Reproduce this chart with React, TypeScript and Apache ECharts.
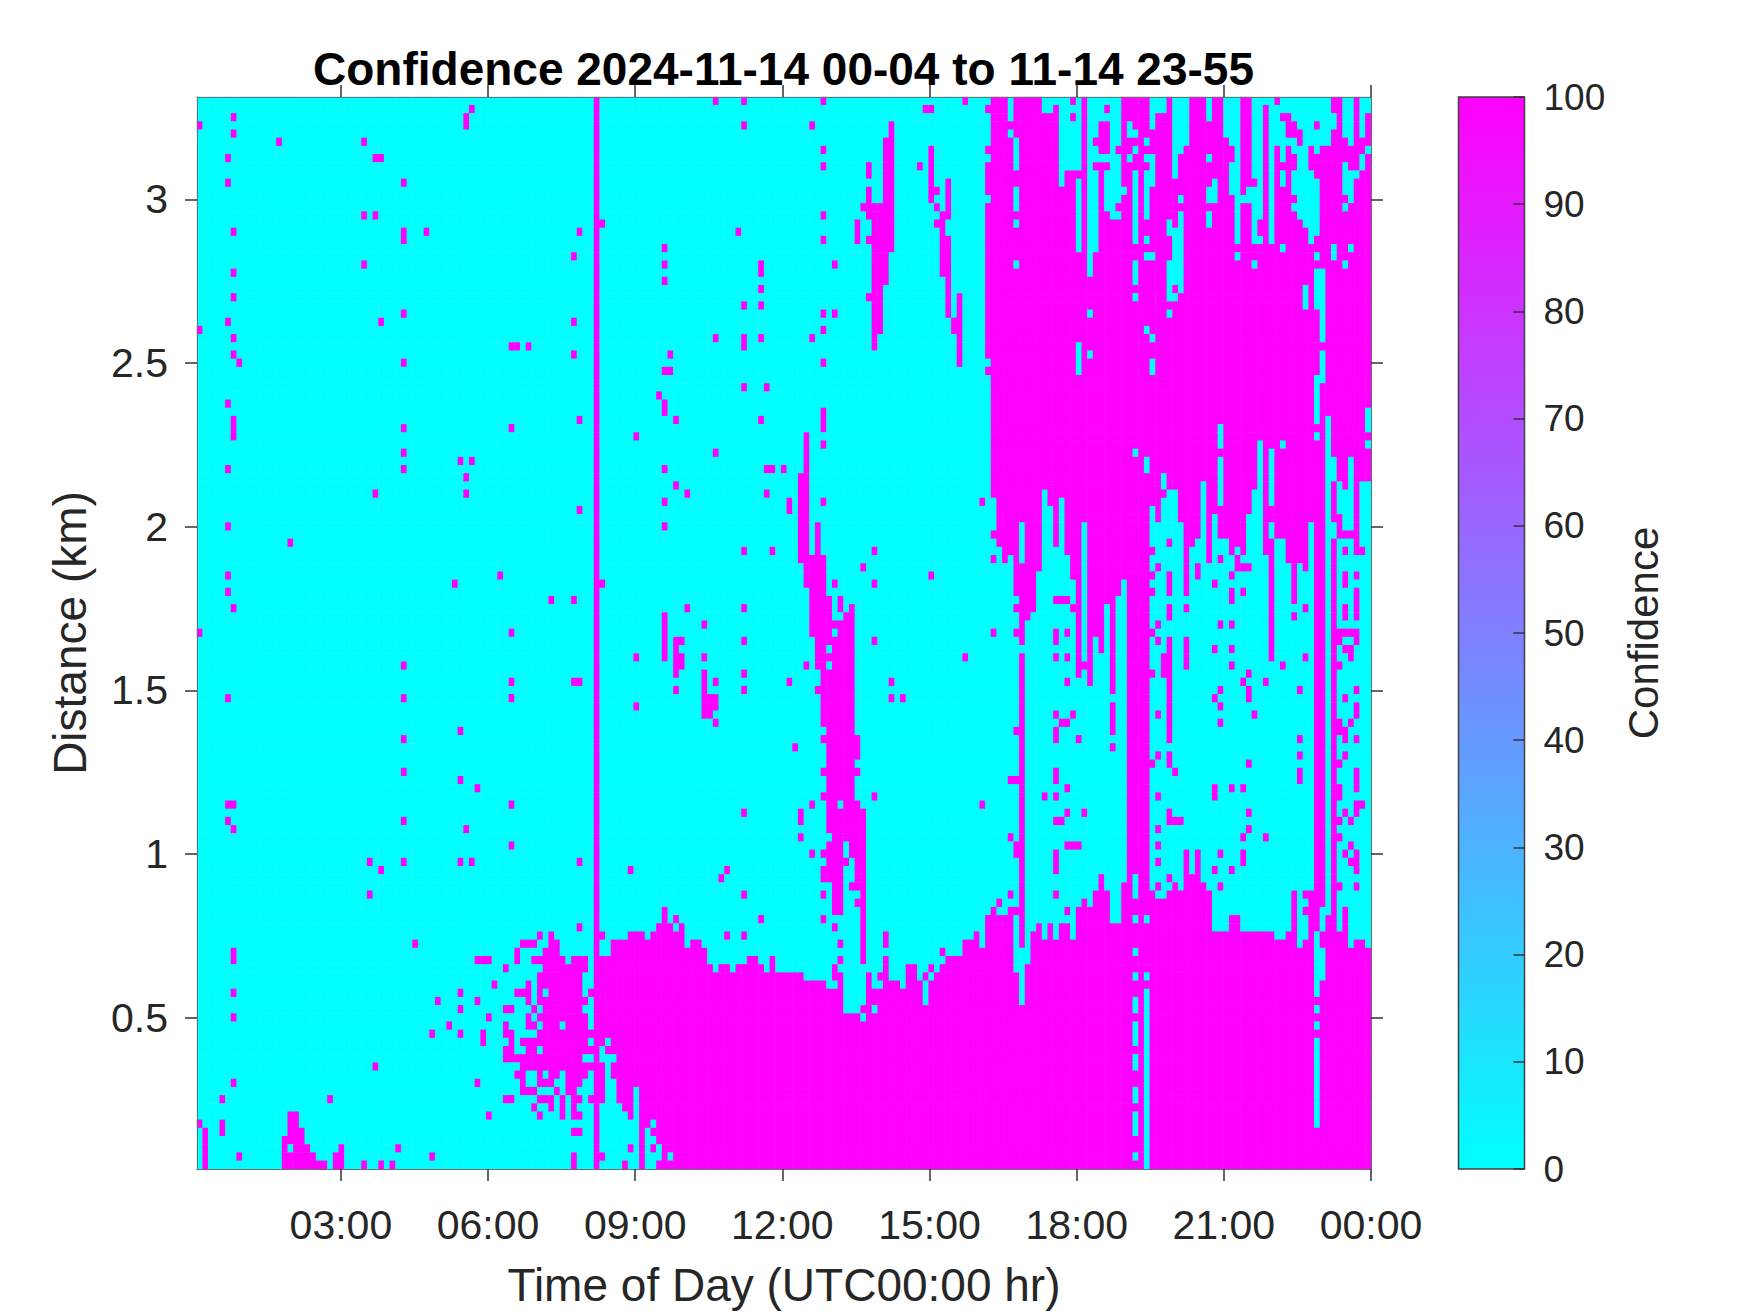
import React, { useEffect, useRef } from "react";
import * as echarts from "echarts";

const COL_COUNT = 207;
const ROW_COUNT = 131;
const TITLE = "Confidence 2024-11-14 00-04 to 11-14 23-55";
const X_NAME = "Time of Day (UTC00:00 hr)";
const Y_NAME = "Distance (km)";
const BAR_NAME = "Confidence";
const X_TICK_HOURS = [3, 6, 9, 12, 15, 18, 21, 24];
const Y_TICKS_KM = [0.5, 1, 1.5, 2, 2.5, 3];

// Rows are counted from the top of the picture (3.3 km) at 25 m per row.
// Isolated detections: [col, firstRow, lastRow]
const isolatedRuns: number[][] = [
  [48,1,1],[47,2,3],[6,2,2],[0,3,3],[6,4,4],[14,5,5],[29,5,5],[5,7,7],[31,7,7],[32,7,7],[5,10,10],[36,10,10],[29,14,14],[31,14,14],[71,15,15],[6,16,16],[36,16,17],[40,16,16],[67,16,16],[66,19,19],[29,20,20],[6,21,21],[6,24,24],[36,26,26],[5,27,27],[32,27,27],[66,27,27],[0,28,28],[6,29,29],[55,30,30],[56,30,30],[58,30,30],[6,31,31],[66,31,31],[7,32,32],[36,32,32],[5,37,37],[6,39,41],[36,40,40],[55,40,40],[67,39,39],
  [36,43,43],[46,44,44],[48,44,44],[5,45,45],[36,45,45],[47,46,46],[31,48,48],[47,48,48],[67,50,50],[5,52,52],[16,54,54],[5,58,58],[53,58,58],[45,59,59],[71,59,59],[5,60,60],[62,61,61],[66,61,61],[6,62,62],[0,65,65],[55,65,65],[36,69,69],[55,71,71],[67,71,71],[66,71,71],[5,73,73],[36,73,73],[55,73,73],[46,77,77],[36,78,78],[36,82,82],[46,83,83],[49,84,84],[5,86,86],[6,86,86],[55,86,86],[5,88,88],[36,88,88],
  [6,89,89],[47,89,89],[55,91,91],[30,93,93],[36,93,93],[46,93,93],[48,93,93],[67,93,93],[32,94,94],[30,97,97],[67,101,101],[38,103,103],[6,104,105],[6,109,109],[46,109,109],[42,110,110],[49,110,110],[46,111,111],[6,112,112],[51,112,112],[44,113,113],[41,114,114],[46,114,114],[50,114,115],[31,118,118],[6,120,120],[49,120,120],[4,122,122],[23,122,122],[51,124,124],[0,125,125],[4,125,126],[1,126,130],[25,128,128],[35,128,128],[7,129,129],[41,129,129],[29,130,130],[32,130,130],[34,130,130],
  [91,0,0],[96,0,0],[110,0,0],[135,0,0],[128,1,1],[129,1,1],[96,3,3],[108,3,3],[110,6,6],[110,8,8],[127,8,8],[118,8,9],[118,11,12],[130,11,11],[130,13,13],[110,14,14],[110,17,17],[116,15,17],[95,16,16],[82,18,18],[82,20,20],[82,22,22],[99,20,21],[99,23,23],[112,20,20],[96,25,25],[99,25,25],[110,26,26],[112,26,26],[110,28,28],[91,29,29],[96,29,30],[99,29,29],[108,29,29],[83,31,31],[82,33,33],[83,33,33],[110,32,32],[96,35,35],[100,35,35],[81,36,36],[82,37,38],[84,39,39],[99,39,39],[110,38,40],[77,41,41],[110,42,42],
  [91,43,43],[82,45,45],[100,45,45],[101,45,45],[103,45,45],[84,47,47],[86,48,48],[100,48,48],[104,49,50],[82,49,49],[110,49,49],[138,49,49],[82,52,52],[109,52,55],[96,55,55],[101,55,55],[119,55,55],[117,57,57],[129,58,58],[112,59,59],[119,59,59],[113,61,62],[86,62,62],[96,62,62],[82,63,68],[89,64,64],[84,66,66],[85,66,66],[84,67,67],[84,68,69],[85,68,69],[84,70,70],[96,66,66],[119,66,66],[140,65,65],[107,69,69],[77,68,68],[89,68,68],[135,68,68],[89,70,72],[91,71,71],[96,70,70],[96,72,72],[84,72,72],[104,71,71],[122,71,71],[122,73,73],[124,73,73],[89,73,75],[90,73,75],[91,73,74],[91,76,76],[77,74,74],[105,79,79],[109,72,72],[119,85,85],[108,86,86],[138,86,86],[143,83,83],[96,87,87],[106,87,88],[106,90,90],[76,94,94],[93,94,94],[92,95,95],[96,97,97],[110,97,97],[99,100,100],[110,100,100],[112,101,101],[93,102,102],[96,102,102],[113,103,103],[113,105,105],[121,102,103],[108,92,92],[131,104,104],[129,106,106],[128,107,107],[120,107,107],[118,107,108],[112,106,107],[84,100,100],[117,111,111],[71,102,102],[71,129,129],[141,98,98],[143,97,97],[143,90,90],[144,91,92],[144,77,77],[144,83,83],[144,99,99],[140,53,53],[140,56,56],[144,62,62],[144,65,65],
  [154,62,62],[151,61,61],[152,61,61],[153,61,61],[151,65,66],[153,65,65],[151,68,68],[153,68,68],[153,71,71],[151,75,75],[154,75,75],[152,76,76],[153,76,76],[151,77,78],[155,78,78],[161,74,77],[161,79,79],[151,82,83],[153,84,84],[149,85,85],[151,85,85],[156,69,69],[151,88,88],[152,88,88],[153,87,87],[156,87,87],[153,91,91],[154,91,91],[155,91,91],[151,92,94],[151,97,97],[153,99,99],[156,98,98],
  [168,55,55],[168,58,58],[168,60,60],[168,65,65],[168,70,70],[168,81,81],[169,57,57],[169,64,64],[169,66,66],[169,75,75],[169,80,80],[169,85,85],[169,89,89],[169,91,91],[169,93,93],[169,96,96],[171,54,54],[171,58,60],[171,62,63],[171,66,67],[170,68,70],[171,68,70],[171,71,78],[171,80,81],[172,82,82],[171,87,88],[172,88,88],[173,88,88],[171,95,95],[172,96,96],
  [174,62,62],[174,66,69],[176,57,58],[179,59,59],[180,56,56],[182,58,58],[182,60,61],[184,60,60],[180,64,64],[182,64,64],[179,67,67],[182,67,67],[182,69,69],[185,70,70],[184,71,71],[188,71,71],[185,72,73],[180,72,72],[179,73,73],[180,74,74],[180,76,76],[186,75,75],[194,72,72],[194,78,78],[194,80,80],[185,81,81],[194,82,83],[179,84,85],[182,84,84],[184,84,84],[185,87,87],[185,89,89],[184,90,90],[188,90,90],[184,92,93],[180,92,92],[179,94,94],[182,94,94],[180,96,96],
  [183,56,57],[184,57,57],[185,57,57],[184,55,55],[189,54,68],[191,69,69],[195,68,68],[195,62,62],[193,57,61],[193,63,63],[193,97,101],[195,97,97],[195,99,99],[196,97,98],
  [204,58,58],[202,58,59],[204,60,63],[202,62,63],[204,72,72],[202,73,73],[204,74,75],[203,76,76],[202,78,78],[204,78,78],[202,80,80],[204,82,84],[201,84,85],[202,87,87],[204,87,87],[203,88,88],[201,88,88],[201,90,90],[203,91,91],[202,92,92],[204,92,94],[203,93,93],[201,96,96],[204,96,96],[202,55,55],[205,55,55],[204,55,55],
  [200,54,99],[201,53,53],[202,53,53],[203,53,53],[200,51,51],[201,51,52],[200,47,50],[201,69,69],[200,65,65],[201,65,65],[202,65,65],[203,65,65],[204,65,66],[201,66,66],[202,67,67],[203,67,68],[201,76,76],[201,77,77],[202,77,77],[201,81,81],[204,86,86],[205,86,86],
  [139,1,1],[139,6,6],[139,8,11],[139,13,31],[139,33,33],
];

// Solid clusters of detections: [firstCol, lastCol, firstRow, lastRow]
const solidBlocks: number[][] = [
  [70,70,0,130],[16,17,124,126],[18,18,126,127],[15,17,127,127],[15,15,128,130],[17,19,128,128],[16,20,129,129],[16,22,130,130],[24,25,129,130],
  [57,59,103,103],[62,63,103,103],[60,60,102,102],[62,62,102,102],[56,56,104,105],[61,63,104,104],[49,51,105,105],[59,64,105,105],[66,68,105,105],[54,54,106,106],[61,68,106,106],[60,67,107,108],[52,52,108,108],[58,58,108,108],[56,58,109,109],[60,60,109,109],[62,67,109,109],[69,69,109,109],[58,58,110,110],[60,68,110,110],[54,55,111,111],[59,59,111,111],[61,67,111,111],[58,58,112,112],[60,68,112,112],[54,54,113,113],[58,59,113,113],[61,63,113,113],[65,68,113,113],[54,55,114,114],[60,69,114,114],[55,55,115,115],[57,68,115,115],[54,55,116,116],[58,59,116,116],[61,69,116,116],[54,67,117,117],[57,59,118,118],[60,69,118,118],[56,57,119,119],[60,60,119,119],[62,63,119,119],[65,68,119,119],[57,57,120,120],[60,62,120,120],[65,67,120,120],[57,59,121,121],[63,63,121,121],[65,66,121,121],[54,54,122,122],[55,55,122,122],[60,62,122,122],[64,64,122,122],[66,67,122,122],[69,69,122,122],[59,59,123,123],[62,62,123,123],[64,64,123,123],[66,66,123,123],[60,60,124,124],[64,64,124,124],[66,67,124,124],[66,67,126,126],[66,66,129,130],
  [107,107,41,55],[106,106,46,56],[107,110,56,59],[108,110,60,60],[108,111,61,65],[109,115,66,69],[112,115,64,65],[114,115,63,63],[115,115,62,62],[110,115,70,76],[111,115,77,77],[110,116,78,78],[111,116,79,80],[111,115,81,81],[110,116,82,82],[111,115,83,84],[110,115,85,85],[111,112,86,86],[114,116,86,86],[111,117,87,89],[112,117,90,90],[111,113,91,91],[115,117,91,91],[110,113,92,92],[115,117,92,92],[111,114,93,93],[116,117,93,93],[110,113,94,95],[116,117,94,95],[112,113,96,96],[115,117,96,96],[112,113,97,99],[117,117,97,97],[116,117,98,98],[117,117,99,105],
  [122,122,3,4],[121,122,5,12],[117,122,13,13],[118,122,14,14],[119,122,15,16],[118,122,17,17],[119,122,18,18],[119,121,19,22],[119,120,23,23],[118,120,24,24],[119,120,25,28],[119,119,29,30],
  [129,129,6,12],[132,132,10,13],[131,132,14,14],[130,131,15,15],[131,131,16,16],[131,132,17,21],[132,132,22,26],[133,134,27,28],[134,134,24,26],[134,134,29,32],
  [145,145,68,103],
];

// Gaps inside the clusters, [firstCol, lastCol, firstRow, lastRow]
const gapBlocks: number[][] = [
  [112,112,65,65],[111,111,67,67],[111,111,69,69],[114,114,91,92],
  [143,143,0,2],[143,143,4,4],[144,144,5,8],[144,144,11,13],[144,144,15,15],[144,144,20,20],[149,150,0,1],[151,153,0,0],[152,153,1,8],[154,154,1,1],[154,154,3,8],[155,155,0,8],[152,152,9,10],[155,155,10,18],
  [157,162,0,0],[157,159,1,1],[161,162,1,1],[157,162,2,2],[157,158,3,4],[161,162,3,4],[157,157,5,5],[161,162,5,5],[157,158,6,6],[161,161,6,6],[157,162,7,7],[157,157,8,8],[161,162,8,8],[157,158,9,10],[160,162,9,10],[157,158,11,11],[160,163,11,11],[157,158,12,12],[160,162,12,12],[157,158,13,13],[160,161,13,13],[157,158,14,14],[161,162,14,14],[157,158,15,18],[157,157,19,21],[157,157,26,26],[157,157,31,31],[155,155,30,33],
  [164,164,3,3],[164,165,4,4],[167,167,5,5],[165,165,6,6],[164,164,7,7],[165,165,9,17],[165,165,20,22],[165,165,24,24],[167,168,7,7],[168,168,8,8],[167,168,9,10],[167,167,11,14],[167,167,17,17],[167,168,19,19],[167,167,28,28],[168,168,29,29],[168,168,32,33],[168,170,0,1],[168,168,2,3],[172,174,0,5],[172,173,6,6],[172,172,7,9],[173,173,12,12],[173,173,14,23],[172,172,16,22],[172,172,24,24],[171,171,15,16],[171,171,20,24],[171,171,26,26],
  [178,178,0,2],[178,178,7,7],[178,179,11,12],[179,179,10,10],[178,178,14,15],[181,183,0,4],[182,183,5,5],[183,183,6,7],[182,183,8,11],[183,187,12,12],[183,183,13,17],[186,187,0,9],[187,187,10,10],[185,187,11,11],[186,187,13,14],[186,186,15,17],[187,187,17,17],[186,189,0,0],[189,189,1,17],[190,190,1,5],[183,183,19,19],[186,186,20,20],[191,191,18,18],
  [191,199,0,1],[193,200,2,2],[190,191,3,3],[194,196,3,3],[198,200,3,3],[190,191,4,4],[195,199,4,4],[190,193,5,5],[195,199,5,5],[191,191,6,7],[193,195,6,6],[197,197,6,6],[194,195,7,8],[193,196,9,9],[191,191,9,10],[193,197,10,11],[194,197,12,12],[193,197,13,13],[194,197,14,14],[195,197,15,15],[196,197,16,16],[196,196,17,17],
  [202,203,0,4],[205,206,0,0],[205,205,1,4],[206,206,1,1],[203,203,5,5],[206,206,6,6],[205,205,7,8],[202,202,8,8],[202,204,9,9],[202,203,10,11],[203,203,12,12],[202,202,13,13],[197,197,19,19],[200,200,18,19],[203,203,18,18],[202,202,20,20],
  [197,198,21,25],[195,195,23,25],[198,198,26,29],[198,198,31,33],[197,198,34,34],[197,197,35,39],[197,197,41,41],[199,199,39,39],[199,199,41,42],[206,206,38,40],[206,206,42,42],[180,180,40,42],[187,187,42,42],[191,191,42,42],
  [165,165,43,43],[167,167,44,45],[170,170,46,47],[145,145,52,56],[189,189,43,49],[189,189,52,53],[196,196,52,57],[180,180,44,49],[183,183,55,55],[203,203,44,44],[200,200,44,46],
  [72,72,115,115],[72,73,117,117],[72,72,118,119],[72,73,120,122],[77,77,121,122],[71,74,123,123],[77,77,123,123],[71,75,124,124],[77,77,124,124],[71,76,125,125],[77,77,125,125],[80,80,125,125],[71,77,126,127],[79,79,126,126],[79,80,127,127],[71,75,128,128],[77,77,128,128],[79,79,128,128],[81,81,128,128],[72,77,129,129],[79,81,129,129],[83,83,129,129],[71,74,130,130],[76,77,130,130],[79,80,130,130],
  [71,72,117,117],[71,71,116,116],[119,119,111,111],
  [165,165,95,97],[165,165,100,100],[167,167,100,100],[165,165,104,104],[165,165,107,107],[167,167,107,107],[167,167,109,130],[165,165,110,111],[165,165,113,115],[165,165,117,118],[165,165,121,122],[165,165,124,126],[165,165,129,129],
  [197,197,102,103],[197,198,104,107],[197,197,108,109],[197,197,111,111],[197,197,113,113],[197,197,115,125],[198,198,99,101],[194,194,103,103],[195,195,100,102],[201,201,100,101],
];

// Lowest row of the elevated layer, columns 140 to 206
const upperLayerLastRow = [
  48,54,56,55,60,66,63,62,57,47,49,54,48,55,58,70,51,71,65,67,61,72,60,58,130,130,130,130,49,51,48,47,47,51,60,54,53,46,56,50,53,53,55,56,55,50,47,42,55,68,53,53,56,56,56,57,51,130,130,38,43,46,47,43,55,46,46,
];

// First row of the ground layer, columns 71 to 206
const groundLayerFirstRow = [
  105,105,103,103,103,102,102,102,103,102,101,99,101,102,101,104,103,103,104,106,107,106,106,107,106,106,105,105,106,107,105,107,107,107,107,107,108,108,108,108,109,109,107,112,112,112,113,109,109,109,105,108,108,109,106,106,108,111,108,107,106,105,105,105,103,103,102,104,100,99,100,100,99,107,111,106,102,101,103,101,103,101,101,103,99,98,99,97,95,97,101,101,96,0,0,0,0,97,98,98,97,97,97,92,95,92,96,97,102,102,102,100,100,102,102,102,102,102,102,103,103,102,97,104,103,99,0,0,100,100,102,99,104,103,103,104,
];

const toValues = (): number[][] => {
  const grid: number[][] = Array.from({ length: COL_COUNT }, () => new Array(ROW_COUNT).fill(0));
  const paint = (c0: number, c1: number, r0: number, r1: number, v: number) => {
    for (let c = c0; c <= c1; c++) for (let r = r0; r <= r1; r++) if (grid[c] && r < ROW_COUNT) grid[c][r] = v;
  };
  upperLayerLastRow.forEach((last, i) => paint(140 + i, 140 + i, 0, last, 100));
  groundLayerFirstRow.forEach((first, i) => paint(71 + i, 71 + i, first, ROW_COUNT - 1, 100));
  solidBlocks.forEach(([a, b, c, d]) => paint(a, b, c, d, 100));
  gapBlocks.forEach(([a, b, c, d]) => paint(a, b, c, d, 0));
  isolatedRuns.forEach(([c, a, b]) => paint(c, c, a, Math.max(a, b), 100));
  return grid;
};

const timeLabels = Array.from({ length: COL_COUNT }, (_, i) => String(i));
const rangeLabels = Array.from({ length: ROW_COUNT }, (_, i) => (0.05 + i * 0.025).toFixed(3));

const FONT = "Liberation Sans";
const INK = "#262626";
const FRAME = "#6e6e6e";
const TICK = "#333333";

export default function App() {
  const ref = useRef<HTMLDivElement>(null);
  useEffect(() => {
    document.body.style.margin = "0";
    const chart = echarts.init(ref.current!, undefined, { renderer: "svg" });
    const grid = toValues();
    const cells: number[][] = [];
    grid.forEach((col, c) => col.forEach((v, r) => cells.push([c, ROW_COUNT - 1 - r, v])));
    const label = { color: INK, fontFamily: FONT, fontSize: 41 };
    const nameStyle = { color: INK, fontFamily: FONT, fontSize: 46 };
    chart.setOption({
      animation: false,
      backgroundColor: "#ffffff",
      title: {
        text: TITLE, left: 778.5, top: 41, textAlign: "center",
        textStyle: { color: "#000000", fontFamily: FONT, fontSize: 46, fontWeight: "bold" },
      },
      grid: [
        { left: 197, top: 97, width: 1174, height: 1072 },
        { left: 1458.5, top: 97, width: 66, height: 1072 },
      ],
      xAxis: [
        { type: "category", gridIndex: 0, data: timeLabels, show: false },
        {
          type: "value", gridIndex: 0, min: 4 / 60, max: 24, position: "bottom", z: 5,
          name: X_NAME, nameLocation: "middle", nameGap: 93, nameTextStyle: nameStyle,
          axisLine: { onZero: false, lineStyle: { color: FRAME, width: 1 } },
          axisTick: { customValues: X_TICK_HOURS, length: 12, lineStyle: { color: TICK, width: 1.5 } },
          axisLabel: {
            ...label, margin: 35, customValues: X_TICK_HOURS,
            formatter: (v: number) => String(v % 24).padStart(2, "0") + ":00",
          },
          splitLine: { show: false },
        },
        {
          type: "value", gridIndex: 0, min: 4 / 60, max: 24, position: "top", z: 5,
          axisLine: { onZero: false, lineStyle: { color: FRAME, width: 1 } },
          axisTick: { customValues: X_TICK_HOURS, length: 12, lineStyle: { color: TICK, width: 1.5 } },
          axisLabel: { show: false }, splitLine: { show: false },
        },
        { type: "value", gridIndex: 1, min: 0, max: 1, show: false },
      ],
      yAxis: [
        { type: "category", gridIndex: 0, data: rangeLabels, show: false },
        {
          type: "value", gridIndex: 0, min: 0.0375, max: 3.3125, position: "left", z: 5,
          name: Y_NAME, nameLocation: "middle", nameGap: 104, nameRotate: 90, nameTextStyle: nameStyle,
          axisLine: { onZero: false, lineStyle: { color: FRAME, width: 1 } },
          axisTick: { customValues: Y_TICKS_KM, length: 12, lineStyle: { color: TICK, width: 1.5 } },
          axisLabel: { ...label, margin: 29, customValues: Y_TICKS_KM, padding: [4, 0, 0, 0] },
          splitLine: { show: false },
        },
        {
          type: "value", gridIndex: 0, min: 0.0375, max: 3.3125, position: "right", z: 5,
          axisLine: { onZero: false, lineStyle: { color: FRAME, width: 1 } },
          axisTick: { customValues: Y_TICKS_KM, length: 12, lineStyle: { color: TICK, width: 1.5 } },
          axisLabel: { show: false }, splitLine: { show: false },
        },
        {
          type: "value", gridIndex: 1, min: 0, max: 100, interval: 10, position: "right", z: 5,
          name: BAR_NAME, nameLocation: "middle", nameGap: 98, nameRotate: 90,
          nameTextStyle: { ...nameStyle, fontSize: 42 },
          axisLine: { show: false, onZero: false },
          axisTick: { inside: true, length: 11, lineStyle: { color: TICK, width: 1.5 } },
          axisLabel: { ...label, fontSize: 37, margin: 19, padding: [6, 0, 0, 0] },
          splitLine: { show: false },
        },
      ],
      visualMap: {
        show: false, type: "continuous", seriesIndex: 0, min: 0, max: 100,
        inRange: { color: ["#00ffff", "#ff00ff"] },
      },
      series: [
        {
          type: "heatmap", name: BAR_NAME, xAxisIndex: 0, yAxisIndex: 0, data: cells,
          progressive: 0, silent: true, emphasis: { disabled: true },
        },
        {
          type: "custom", name: "colorbar", xAxisIndex: 3, yAxisIndex: 3, silent: true, z: 1,
          data: [[0, 0, 1, 100]],
          encode: { x: [0, 2], y: [1, 3] },
          renderItem: (_: any, api: any) => {
            const a = api.coord([api.value(0), api.value(1)]);
            const b = api.coord([api.value(2), api.value(3)]);
            return {
              type: "rect",
              shape: { x: a[0], y: b[1], width: b[0] - a[0], height: a[1] - b[1] },
              style: {
                fill: new echarts.graphic.LinearGradient(0, 1, 0, 0, [
                  { offset: 0, color: "#00ffff" },
                  { offset: 1, color: "#ff00ff" },
                ]),
                stroke: "#404040", lineWidth: 1.5,
              },
            };
          },
        },
      ],
    });
    return () => chart.dispose();
  }, []);
  return <div ref={ref} style={{ position: "absolute", left: 0, top: 0, width: 1750, height: 1313 }} />;
}
